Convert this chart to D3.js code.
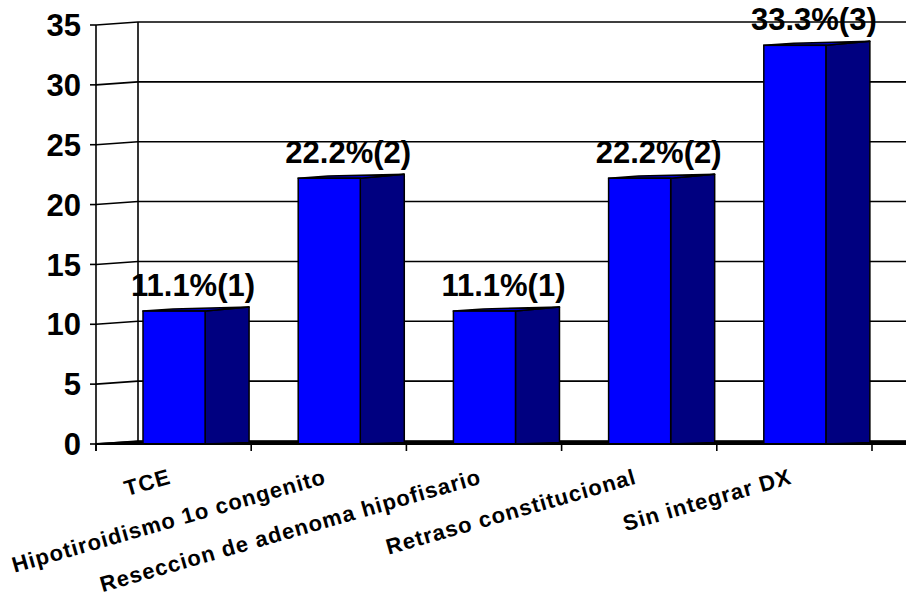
<!DOCTYPE html>
<html>
<head>
<meta charset="utf-8">
<script src="https://cdn.jsdelivr.net/npm/d3@7"></script>
<style>
  html, body { margin: 0; padding: 0; background: #fff; }
  svg { display: block; font-family: "Liberation Sans", Arial, sans-serif; font-weight: bold; }
</style>
</head>
<body>
<svg id="chart" width="906" height="608"></svg>
<script>
// Diagnoses and their share of cases (percent), with case counts
const categories = [
  "TCE",
  "Hipotiroidismo 1o congenito",
  "Reseccion de adenoma hipofisario",
  "Retraso constitucional",
  "Sin integrar DX"
];
const percentages = [11.1, 22.2, 11.1, 22.2, 33.3];
const counts = [1, 2, 1, 2, 3];
const yTicks = [0, 5, 10, 15, 20, 25, 30, 35];

const W = 906, H = 608;
const svg = d3.select("#chart");

// Front plane of the 3D box
const x = d3.scaleBand().domain(categories).range([96, 872]).paddingInner(0).paddingOuter(0);
const y = d3.scaleLinear().domain([0, 35]).range([444, 25]);

// Depth offset of the back wall relative to the front plane
const depthX = 42, depthY = -3;

const ink = "#000";

// Gridlines on the back wall, joined to the front axis by short slanted segments
const grid = svg.append("g");
yTicks.forEach(t => {
  const yf = y(t), yb = y(t) + depthY;
  grid.append("path")
    .attr("d", `M${x.range()[0]},${yf}L${x.range()[0] + depthX},${yb}L${W},${yb}`)
    .attr("fill", "none").attr("stroke", ink).attr("stroke-width", 1.6);
});

// Back wall left edge
grid.append("line")
  .attr("x1", x.range()[0] + depthX).attr("x2", x.range()[0] + depthX)
  .attr("y1", y(35) + depthY).attr("y2", y(0) + depthY)
  .attr("stroke", ink).attr("stroke-width", 1.6);

// Front value axis line with tick marks and labels
const yAxisG = svg.append("g");
yAxisG.append("line")
  .attr("x1", 96).attr("x2", 96).attr("y1", y(35)).attr("y2", y(0) + 7)
  .attr("stroke", ink).attr("stroke-width", 1.6);
yTicks.forEach(t => {
  yAxisG.append("line")
    .attr("x1", 90).attr("x2", 96).attr("y1", y(t)).attr("y2", y(t))
    .attr("stroke", ink).attr("stroke-width", 1.6);
  yAxisG.append("text")
    .attr("x", 81).attr("y", y(t)).attr("dy", "0.36em")
    .attr("text-anchor", "end")
    .attr("font-size", 31)
    .attr("fill", ink)
    .text(t);
});

// Floor: thin parallelogram between the front and back base lines
svg.append("path")
  .attr("d", `M96,${y(0)}L${96 + depthX},${y(0) + depthY + 0.8}L${W},${y(0) + depthY + 0.8}`)
  .attr("fill", "none").attr("stroke", ink).attr("stroke-width", 2.2);

// Bars drawn as front face, sliver of top face, and dark side face
const frontOffset = 47, frontW = x.bandwidth() * 0.4, sideW = 44, sideRise = 4;
const bars = svg.append("g");
categories.forEach((c, i) => {
  const v = percentages[i];
  const fx0 = x(c) + frontOffset, fx1 = fx0 + frontW, sx1 = fx1 + sideW;
  const yt = y(v), yb = y(0);
  // side face
  bars.append("path")
    .attr("d", `M${fx1},${yt}L${sx1},${yt - sideRise}L${sx1},${yb - 1.5}L${fx1},${yb}Z`)
    .attr("fill", "#000080").attr("stroke", ink).attr("stroke-width", 1.5)
    .attr("stroke-linejoin", "round");
  // top sliver
  bars.append("path")
    .attr("d", `M${fx0},${yt}L${fx1},${yt}L${sx1},${yt - sideRise}L${fx0 + 30},${yt - 2.2}Z`)
    .attr("fill", "#0000c8").attr("stroke", ink).attr("stroke-width", 1.5)
    .attr("stroke-linejoin", "round");
  // front face
  bars.append("rect")
    .attr("x", fx0).attr("y", yt).attr("width", frontW).attr("height", yb - yt)
    .attr("fill", "#0000ff").attr("stroke", ink).attr("stroke-width", 1.5);
  // value label
  bars.append("text")
    .attr("x", (fx0 + sx1) / 2 - 3).attr("y", yt - 15)
    .attr("text-anchor", "middle")
    .attr("font-size", 31)
    .attr("fill", ink)
    .text(`${v}%(${counts[i]})`);
});

// Category axis: front base line, tick marks, rotated labels
const xAxisG = svg.append("g");
xAxisG.append("line")
  .attr("x1", 96).attr("x2", W).attr("y1", y(0)).attr("y2", y(0))
  .attr("stroke", ink).attr("stroke-width", 2.2);
const tickXs = categories.map(c => x(c)).concat([x.range()[1]]);
tickXs.forEach(tx => {
  xAxisG.append("line")
    .attr("x1", tx).attr("x2", tx).attr("y1", y(0)).attr("y2", y(0) + 7)
    .attr("stroke", ink).attr("stroke-width", 1.6);
});
categories.forEach(c => {
  const cx = x(c) + x.bandwidth() / 2 - 6;
  xAxisG.append("text")
    .attr("transform", `translate(${cx},468) rotate(-16)`)
    .attr("text-anchor", "end")
    .attr("dy", "0.72em")
    .attr("font-size", 22)
    .attr("letter-spacing", 1)
    .attr("fill", ink)
    .text(c);
});
</script>
</body>
</html>
